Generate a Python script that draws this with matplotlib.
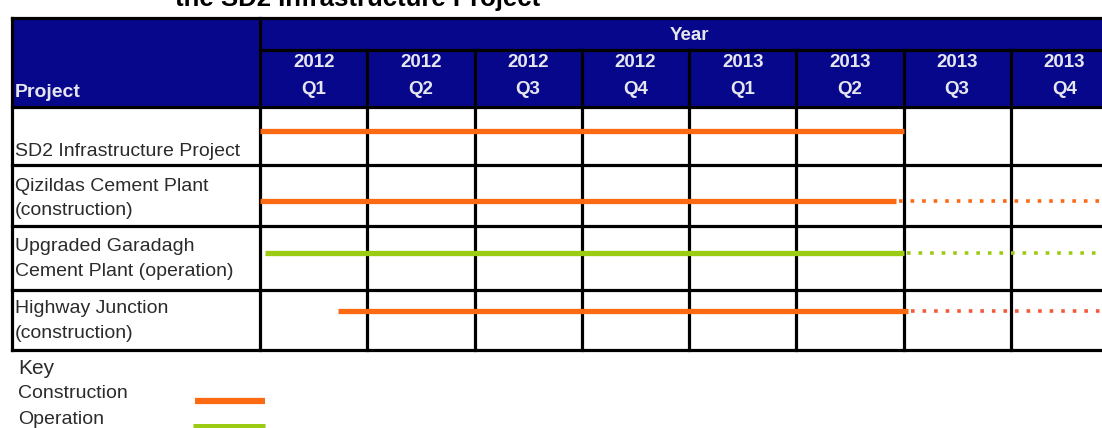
import matplotlib.pyplot as plt
from matplotlib.patches import Rectangle

# schedule data (x unit = one quarter, 0 = start of 2012 Q1)
quarters = ['2012\nQ1', '2012\nQ2', '2012\nQ3', '2012\nQ4',
            '2013\nQ1', '2013\nQ2', '2013\nQ3', '2013\nQ4']
projects = ['SD2 Infrastructure Project',
            'Qizildas Cement Plant\n(construction)',
            'Upgraded Garadagh\nCement Plant (operation)',
            'Highway Junction\n(construction)']
phase = ['construction', 'construction', 'operation', 'construction']
solid_start = [0.0, 0.0, 0.05, 0.73]
solid_end = [6.0, 5.93, 6.0, 6.04]
dotted_end = [None, 8.0, 8.0, 8.0]

colors = {'construction': '#FB6A12', 'operation': '#9BCB12'}
dot_colors = ['#FB6A12', '#FB6A12', '#9BCB12', '#F45A3A']

# layout in pixels
W, H = 1102, 428
col_w = 107.25
x0 = 260            # left edge of 2012 Q1 column
left = 12
head_top, year_bot, head_bot = 18, 50, 107
row_edges = [107, 165, 226, 290, 350]
line_y = [131, 201, 253, 311]
label_y = [151, 198.5, 259, 321]


def qx(px):
    return (px - x0) / col_w


plt.rcParams['font.family'] = ['Liberation Sans', 'DejaVu Sans']
fig = plt.figure(figsize=(W / 100, H / 100), dpi=100)
ax = fig.add_axes([0, 0, 1, 1])
ax.set_xlim(qx(0), qx(W))
ax.set_ylim(H, 0)
ax.axis('off')

n = len(quarters)
right = n

# header block
ax.add_patch(Rectangle((qx(left), head_top), right - qx(left), head_bot - head_top,
                       facecolor='#07078C', edgecolor='none', zorder=1))
hdr = dict(color='#E6E6EE', fontweight='bold', fontsize=13.5, ha='center', va='center', zorder=5)
ax.text(n / 2, 35, 'Year', **hdr)
for i, q in enumerate(quarters):
    ax.text(i + 0.5, 76, q, linespacing=1.7, **hdr)
ax.text(qx(15), 92, 'Project', color='#E6E6EE', fontweight='bold', fontsize=14,
        ha='left', va='center', zorder=5)

# grid
lk = dict(color='black', lw=2.3, zorder=3, solid_capstyle='projecting')
ax.plot([qx(left), right], [head_top, head_top], **lk)
ax.plot([0, right], [year_bot, year_bot], **lk)
for y in row_edges:
    ax.plot([qx(left), right], [y, y], **lk)
ax.plot([qx(left), qx(left)], [head_top, row_edges[-1]], **lk)
ax.plot([0, 0], [head_top, row_edges[-1]], **lk)
for i in range(1, n):
    ax.plot([i, i], [year_bot, row_edges[-1]], **lk)

# project labels
for lab, y in zip(projects, label_y):
    ax.text(qx(15), y, lab, fontsize=14, color='#2B2B2B', ha='left', va='center',
            linespacing=1.6, zorder=5)

# schedule bars
for i in range(len(projects)):
    c = colors[phase[i]]
    ax.plot([solid_start[i], solid_end[i]], [line_y[i], line_y[i]], color=c, lw=3.8,
            solid_capstyle='butt', zorder=4)
    if dotted_end[i] is not None:
        ax.plot([solid_end[i] + 0.03, dotted_end[i]], [line_y[i], line_y[i]],
                color=dot_colors[i], lw=2.6, linestyle=(0, (1, 2.2)),
                dash_capstyle='butt', zorder=4)

# key
ax.text(qx(18), 368, 'Key', fontsize=15, color='#2B2B2B', ha='left', va='center')
ax.text(qx(18), 393, 'Construction', fontsize=14, color='#2B2B2B', ha='left', va='center')
ax.text(qx(18), 419, 'Operation', fontsize=14, color='#2B2B2B', ha='left', va='center')
ax.plot([qx(195), qx(265)], [401, 401], color=colors['construction'], lw=4.5,
        solid_capstyle='butt')
ax.plot([qx(193), qx(265)], [427, 427], color=colors['operation'], lw=5,
        solid_capstyle='butt')

# title, running off the top edge
ax.text(qx(358), 6, 'the SD2 Infrastructure Project', fontsize=18.5, fontweight='bold',
        color='black', ha='center', va='baseline')

fig.savefig('out.png', dpi=100)
